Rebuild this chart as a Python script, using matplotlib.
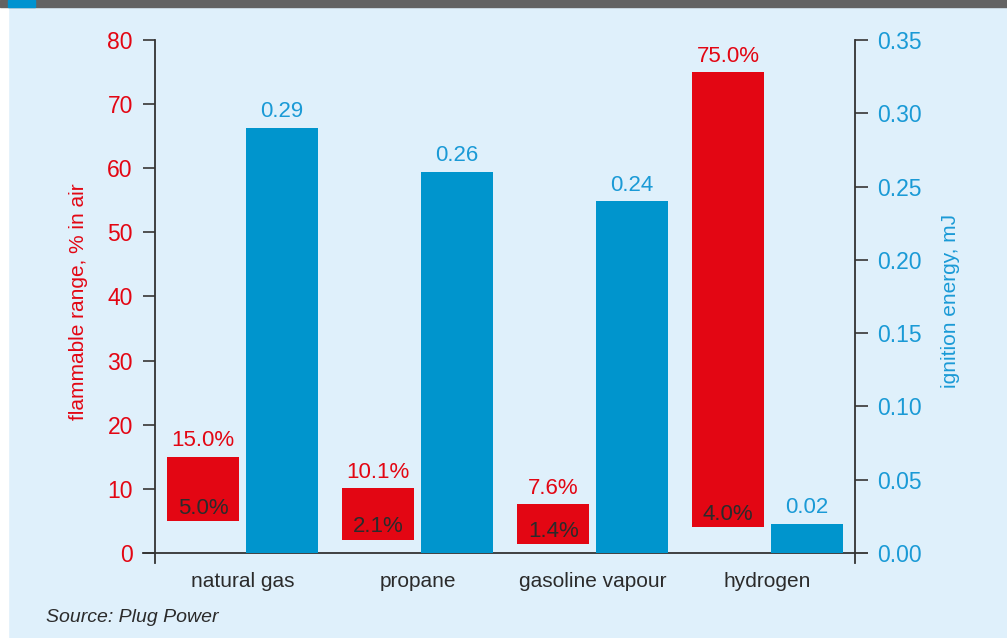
import numpy as np
import matplotlib.pyplot as plt
from matplotlib.patches import Rectangle

# data
fuels = ['natural gas', 'propane', 'gasoline vapour', 'hydrogen']
flam_lower = [5.0, 2.1, 1.4, 4.0]      # % in air
flam_upper = [15.0, 10.1, 7.6, 75.0]   # % in air
ignition = [0.29, 0.26, 0.24, 0.02]    # mJ
left_ticks = [0, 10, 20, 30, 40, 50, 60, 70, 80]
right_ticks = [0.00, 0.05, 0.10, 0.15, 0.20, 0.25, 0.30, 0.35]

RED = '#e30613'
BLUE = '#0095cd'
BLUE_TXT = '#1a9ad6'
BG = '#dff0fb'
DARK = '#2b2b2b'

plt.rcParams['font.family'] = ['Liberation Sans', 'DejaVu Sans']

fig = plt.figure(figsize=(10.07, 6.38), dpi=100, facecolor=BG)
# frame decorations
fig.patches.append(Rectangle((0, 0), 8 / 1007, 1, transform=fig.transFigure,
                             color='white', zorder=0))
fig.patches.append(Rectangle((0, 1 - 7 / 638), 1, 7 / 638, transform=fig.transFigure,
                             color='#636363', zorder=0))
fig.patches.append(Rectangle((8 / 1007, 1 - 7 / 638), 27 / 1007, 7 / 638,
                             transform=fig.transFigure, color='#0093d0', zorder=1))

ax = fig.add_axes([155 / 1007, 1 - 562.6 / 638, 700 / 1007, 522.6 / 638])
ax.set_facecolor('none')
ax2 = ax.twinx()

x = np.arange(len(fuels))
w = 0.41
off = 0.225

lower = np.array(flam_lower)
upper = np.array(flam_upper)
ax.bar(x - off, upper - lower, bottom=lower, width=w, color=RED, zorder=2)
ax2.bar(x + off, ignition, width=w, color=BLUE, zorder=2)

# labels on the bars
for i in range(len(fuels)):
    ax.annotate('{:.1f}%'.format(upper[i]), (x[i] - off, upper[i]),
                xytext=(0, 4), textcoords='offset points',
                ha='center', va='bottom', color=RED, fontsize=16)
    ax.text(x[i] - off, lower[i] + 2.0, '{:.1f}%'.format(lower[i]),
            ha='center', va='center', color=DARK, fontsize=16)
    ax2.annotate('{:.2f}'.format(ignition[i]), (x[i] + off, ignition[i]),
                 xytext=(0, 4), textcoords='offset points',
                 ha='center', va='bottom', color=BLUE_TXT, fontsize=16)

# axes
ymin = -1.5
ax.set_xlim(-0.5, 3.5)
ax.set_ylim(ymin, 80)
ax2.set_ylim(ymin / 80 * 0.35, 0.35)
ax.set_yticks(left_ticks)
ax2.set_yticks(right_ticks)
ax2.set_yticklabels(['{:.2f}'.format(t) for t in right_ticks])
ax.set_xticks(x)
ax.set_xticklabels(fuels, fontsize=15, color=DARK)
ax.tick_params(axis='x', length=0, pad=7)
ax.tick_params(axis='y', length=9, width=1.3, color='#444444', labelcolor=RED,
               labelsize=16.5, pad=7)
ax2.tick_params(axis='y', length=9, width=1.3, color='#444444', labelcolor=BLUE_TXT,
                labelsize=16.5, pad=7)

for a in (ax, ax2):
    for s in ('top', 'bottom'):
        a.spines[s].set_visible(False)
    for s in ('left', 'right'):
        a.spines[s].set_color('#333333')
        a.spines[s].set_linewidth(1.3)
ax2.spines['left'].set_visible(False)
ax.spines['right'].set_visible(False)

ax.axhline(0, xmin=-0.017, xmax=1.017, color='#333333', lw=1.3, clip_on=False, zorder=3)

ax.set_ylabel('flammable range, % in air', color=RED, fontsize=15, labelpad=14)
ax2.set_ylabel('ignition energy, mJ', color=BLUE_TXT, fontsize=15, labelpad=14)

fig.text(46 / 1007, 1 - 617 / 638, 'Source: Plug Power', style='italic',
         color=DARK, fontsize=14, va='center', ha='left')

fig.savefig('out.png', dpi=100, facecolor=fig.get_facecolor())
